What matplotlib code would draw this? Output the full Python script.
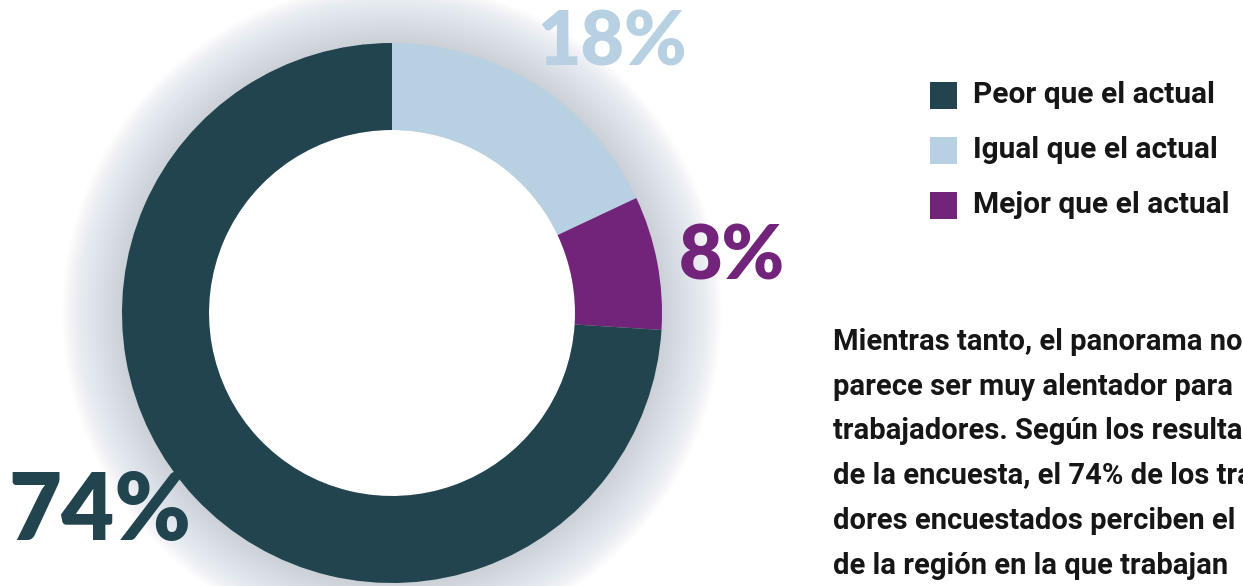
import numpy as np
import matplotlib
matplotlib.use("Agg")
import matplotlib.pyplot as plt
from matplotlib.patches import Circle, Rectangle

# data
labels = ["Igual que el actual", "Mejor que el actual", "Peor que el actual"]
values = [18, 8, 74]
colors = ["#b8d1e2", "#72237a", "#21444f"]

legend_labels = ["Peor que el actual", "Igual que el actual", "Mejor que el actual"]
legend_colors = ["#21444f", "#b8d1e2", "#72237a"]

paragraph = [
    "Mientras tanto, el panorama no",
    "parece ser muy alentador para",
    "trabajadores. Según los resultados",
    "de la encuesta, el 74% de los trabaja-",
    "dores encuestados perciben el",
    "de la región en la que trabajan",
]

W, H = 1243, 586
fig = plt.figure(figsize=(W / 100, H / 100), dpi=100)
ax = fig.add_axes([0, 0, 1, 1])

cx, cy = 392, H - 313
r_out, r_in = 270, 183

# soft shadow around the ring
for r in np.linspace(r_out + 60, r_out, 40):
    ax.add_patch(Circle((cx, cy), r, color="#66737d", alpha=0.007, lw=0, zorder=1))

ax.pie(values, colors=colors, startangle=90, counterclock=False,
       radius=r_out, center=(cx, cy), frame=True,
       wedgeprops=dict(width=r_out - r_in, linewidth=0, zorder=2))
ax.add_patch(Circle((cx, cy), r_in, color="white", lw=0, zorder=1.5))
ax.set_xlim(0, W)
ax.set_ylim(0, H)
ax.set_aspect("equal")
ax.axis("off")

# percentage labels
num_font = ["Lato", "DejaVu Sans"]
ax.text(612, H - 44, "18%", color="#b8d1e2", fontsize=54, fontweight="heavy",
        family=num_font, ha="center", va="center", zorder=5)
ax.text(732, H - 257, "8%", color="#72237a", fontsize=54, fontweight="heavy",
        family=num_font, ha="center", va="center", zorder=5)
ax.text(100, H - 513, "74%", color="#21444f", fontsize=66, fontweight="heavy",
        family=num_font, ha="center", va="center", zorder=5)

# legend
txt_font = ["Roboto", "DejaVu Sans"]
for i, (lab, col) in enumerate(zip(legend_labels, legend_colors)):
    yc = H - (95 + 55 * i)
    ax.add_patch(Rectangle((930, yc - 13.5), 27, 27, color=col, lw=0, zorder=5))
    ax.text(973, yc, lab, color="#161616", fontsize=21.5, fontweight="bold",
            family=txt_font, ha="left", va="center", zorder=5)

# paragraph
for i, line in enumerate(paragraph):
    ax.text(833, H - (342 + 44.7 * i), line, color="#161616", fontsize=21,
            fontweight="bold", family=txt_font, ha="left", va="center", zorder=5)

fig.savefig("out.png", dpi=100, facecolor="white")
